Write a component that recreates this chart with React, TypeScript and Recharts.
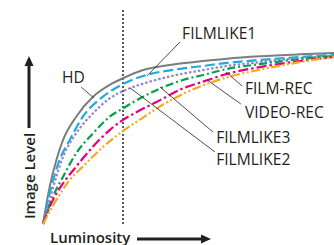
import React from 'react';
import { LineChart, Line, XAxis, YAxis, ReferenceLine, ReferenceDot } from 'recharts';

// Luminosity (0-100) vs image level (0-100)
const hd = [
  [0, 0], [2.3, 17.3], [4.6, 29.8], [6.9, 39.1], [11.4, 49.9], [17.2, 59.2], [22.9, 64.7],
  [27.5, 67.8], [34.4, 71.6], [45.8, 74.4], [55, 75.8], [63.2, 76.9], [74.6, 78], [88.3, 78.9], [100, 79.5],
];
const filmlike1 = [
  [0, 0], [2.3, 14.3], [5.7, 29.8], [9.2, 39.1], [13.7, 49.9], [20.6, 59.2], [27.5, 65.1],
  [35.5, 69.3], [45.8, 71.9], [55, 73.5], [63.2, 74.9], [74.6, 76.3], [88.3, 77.7], [100, 78.6],
];
const filmlike2 = [
  [0, 0], [2.9, 14.3], [6.9, 31.3], [11.4, 42.2], [17.2, 51.5], [22.9, 58.4], [29.8, 63.1],
  [36.7, 66.2], [45.8, 69.3], [55, 71.6], [63.2, 73.5], [74.6, 75.3], [88.3, 77.2], [100, 78.1],
];
const filmlike3 = [
  [0, 0], [3.4, 12.7], [6.9, 22], [11.4, 32.9], [17.2, 42.2], [22.9, 49.9], [27.5, 53.8],
  [34.4, 59.2], [41.2, 63.6], [48.1, 67], [55, 69.3], [63.2, 72.1], [74.6, 74.4], [88.3, 76.7], [100, 78.1],
];
const filmRec = [
  [0, 0], [3.4, 11.2], [6.9, 18.9], [11.4, 26.7], [17.2, 36], [22.9, 43.7], [27.5, 48.4],
  [32.1, 52], [40.1, 57.5], [48.1, 63.1], [55, 66.2], [63.2, 69.8], [74.6, 73], [88.3, 75.8], [100, 77.7],
];
const videoRec = [
  [0, 0], [4.6, 11.2], [9.2, 20.5], [13.7, 26.7], [20.6, 35.8], [27.5, 43.3], [34.4, 49.5],
  [41.2, 55.5], [48.1, 60.5], [55, 64.5], [63.2, 68.2], [74.6, 71.8], [88.3, 75.3], [100, 77.7],
];

const kneeLuminosity = 27.5;

// label name, text position, leader start, leader end
const labels: [string, number, number, number, number, number, number][] = [
  ['HD', 6.5, 65.6, 13.1, 63.7, 17.5, 58.6],
  ['FILMLIKE1', 47.8, 86, 47.1, 84.7, 35.7, 68.8],
  ['FILM-REC', 69.4, 60.5, 68.4, 64.2, 62.9, 70.7],
  ['VIDEO-REC', 69.4, 49.3, 68.0, 55.8, 56.4, 67.0],
  ['FILMLIKE3', 59.5, 37.7, 58.4, 42.8, 40.2, 63.7],
  ['FILMLIKE2', 59.5, 27.4, 59.1, 33.5, 29.9, 63.3],
];

const toPts = (arr: number[][]) => arr.map(([x, y]) => ({ x, y }));

const series = [
  { name: 'HD', data: hd, color: '#7d7d7d', dash: undefined, width: 2 },
  { name: 'FILMLIKE1', data: filmlike1, color: '#1fa9e1', dash: '10 4', width: 2.2 },
  { name: 'FILMLIKE2', data: filmlike2, color: '#8f86d0', dash: '2.5 2', width: 2.2 },
  { name: 'FILMLIKE3', data: filmlike3, color: '#00a14b', dash: '8 3 2 3', width: 2.2 },
  { name: 'FILM-REC', data: filmRec, color: '#e6007e', dash: '10 3 2.5 3', width: 2.2 },
  { name: 'VIDEO-REC', data: videoRec, color: '#f8a81b', dash: '9 2.5 2 2.5 2 2.5', width: 2.2 },
];

const ink = '#231f20';
const font = '"Open Sans", sans-serif';

export default function App() {
  return (
    <div style={{ position: 'relative', width: 334, height: 245 }}>
      <style>{'body{margin:0}'}</style>
      <LineChart width={334} height={245} margin={{ top: 9, right: 0, bottom: 21, left: 43 }}>
        <XAxis
          type="number"
          dataKey="x"
          domain={[0, 100]}
          height={0}
          tick={false}
          tickLine={false}
          axisLine={{ stroke: ink, strokeWidth: 1.3 }}
        />
        <YAxis
          type="number"
          domain={[0, 100]}
          width={0}
          tick={false}
          tickLine={false}
          axisLine={{ stroke: ink, strokeWidth: 1.3 }}
        />
        <ReferenceLine x={kneeLuminosity} stroke="#333" strokeWidth={1.6} strokeDasharray="2 2" />
        {series.map((s) => (
          <Line
            key={s.name}
            data={toPts(s.data)}
            dataKey="y"
            type="monotone"
            stroke={s.color}
            strokeWidth={s.width}
            strokeDasharray={s.dash}
            dot={false}
            activeDot={false}
            isAnimationActive={false}
          />
        ))}
        {labels.map(([name, , , x1, y1, x2, y2]) => (
          <ReferenceLine
            key={'l' + name}
            segment={[{ x: x1, y: y1 }, { x: x2, y: y2 }]}
            stroke={ink}
            strokeWidth={0.8}
          />
        ))}
        {labels.map(([name, tx, ty]) => (
          <ReferenceDot
            key={'t' + name}
            x={tx}
            y={ty}
            r={0}
            shape={(p: any) => (
              <text x={p.cx} y={p.cy} fill={ink} fontSize={15.6} fontFamily={font}>
                {name}
              </text>
            )}
          />
        ))}
      </LineChart>
      <svg width={334} height={245} style={{ position: 'absolute', left: 0, top: 0, pointerEvents: 'none' }}>
        <text x={50} y={242.5} fill={ink} fontSize={15} fontWeight={600} fontFamily={font}>
          Luminosity
        </text>
        <line x1={137} y1={239} x2={203} y2={239} stroke={ink} strokeWidth={3} />
        <polygon points="211,239 201,234.5 201,243.5" fill={ink} />
        <text
          x={35}
          y={219}
          transform="rotate(-90 35 219)"
          fill={ink}
          fontSize={15}
          fontWeight={600}
          fontFamily={font}
        >
          Image Level
        </text>
        <line x1={29} y1={128} x2={29} y2={64} stroke={ink} strokeWidth={3} />
        <polygon points="29,56 24.5,66 33.5,66" fill={ink} />
      </svg>
    </div>
  );
}
